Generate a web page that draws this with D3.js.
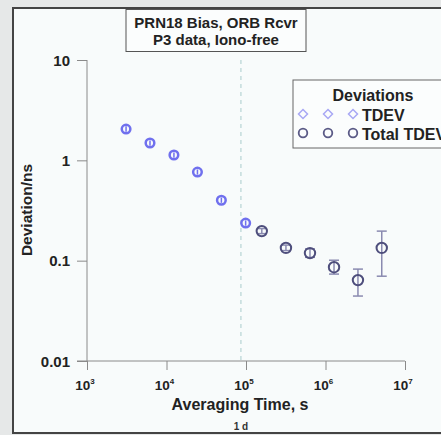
<!DOCTYPE html>
<html>
<head>
<meta charset="utf-8">
<script src="https://cdn.jsdelivr.net/npm/d3@7"></script>
<style>
  body { margin: 0; background: #e6e8e8; }
  svg { display: block; font-family: "Liberation Sans", Arial, sans-serif; font-weight: bold; }
</style>
</head>
<body>
<div id="chart"></div>
<script>
// TDEV points (s, ns)
var tdevTau = [3100, 6200, 12400, 24500, 49000, 99000];
var tdevVal = [2.05, 1.49, 1.13, 0.764, 0.40, 0.237];
var tdevLo  = [1.93, 1.40, 1.06, 0.72, 0.377, 0.223];
var tdevHi  = [2.18, 1.58, 1.20, 0.81, 0.425, 0.252];

// Total TDEV points
var totTau = [158000, 318000, 638000, 1280000, 2560000, 5100000];
var totVal = [0.197, 0.134, 0.119, 0.086, 0.064, 0.134];
var totLo  = [0.186, 0.126, 0.108, 0.0735, 0.0444, 0.070];
var totHi  = [0.209, 0.143, 0.131, 0.101, 0.0824, 0.197];

var xTicks = [1e3, 1e4, 1e5, 1e6, 1e7];
var xExp = ["3", "4", "5", "6", "7"];
var yTicks = [0.01, 0.1, 1, 10];
var yLabels = ["0.01", "0.1", "1", "10"];
var oneDay = 86400;

var titleLines = ["PRN18 Bias, ORB Rcvr", "P3 data, Iono-free"];
var legendNames = ["TDEV", "Total TDEV"];

var width = 441, height = 435;

var svg = d3.select("#chart").append("svg")
    .attr("width", width)
    .attr("height", height);

// frame
svg.append("rect")
    .attr("x", 13).attr("y", 8)
    .attr("width", 440).attr("height", 425)
    .attr("fill", "#f8fbfb")
    .attr("stroke", "#444").attr("stroke-width", 2);

var x = d3.scaleLog().domain([1e3, 1e7]).range([87, 405]);
var y = d3.scaleLog().domain([0.01, 10]).range([361, 60]);

var axisColor = "#8a8a8a";

// minor ticks
function minors(lo, hi) {
    var out = [];
    for (var d = lo; d < hi; d *= 10)
        for (var k = 2; k < 10; k++) out.push(d * k);
    return out;
}

var gy = svg.append("g").attr("transform", "translate(87,0)");
gy.call(d3.axisLeft(y).tickValues(minors(0.01, 10)).tickSize(5).tickFormat(""));
gy.call(d3.axisLeft(y).tickValues(yTicks).tickSize(10).tickFormat(""));
gy.selectAll("path, line").attr("stroke", axisColor);
gy.select(".domain").attr("d", "M0," + y(10) + "V" + y(0.01));

var gx = svg.append("g").attr("transform", "translate(0,361)");
gx.call(d3.axisBottom(x).tickValues(minors(1e3, 1e7)).tickSize(4).tickFormat(""));
gx.call(d3.axisBottom(x).tickValues(xTicks).tickSize(9).tickFormat(""));
gx.selectAll("path, line").attr("stroke", axisColor);
gx.select(".domain").attr("d", "M77,0H" + x(1e7));

// y tick labels
svg.selectAll(".ylab").data(yTicks).enter().append("text")
    .attr("class", "ylab")
    .attr("x", 70)
    .attr("y", function(d) { return y(d) + 5.5; })
    .attr("text-anchor", "end")
    .attr("font-size", 15)
    .attr("fill", "#222")
    .text(function(d, i) { return yLabels[i]; });

// x tick labels
var xl = svg.selectAll(".xlab").data(xTicks).enter().append("text")
    .attr("class", "xlab")
    .attr("x", function(d) { return x(d) - 2; })
    .attr("y", 390)
    .attr("text-anchor", "middle")
    .attr("font-size", 13.5)
    .attr("fill", "#222");
xl.append("tspan").text("10");
xl.append("tspan").attr("dy", -6).attr("font-size", 8).text(function(d, i) { return xExp[i]; });

// axis titles
svg.append("text")
    .attr("x", 240).attr("y", 410)
    .attr("text-anchor", "middle")
    .attr("font-size", 16)
    .attr("fill", "#222")
    .text("Averaging Time, s");

svg.append("text")
    .attr("x", x(oneDay)).attr("y", 430)
    .attr("text-anchor", "middle")
    .attr("font-size", 10)
    .attr("fill", "#333")
    .text("1 d");

svg.append("text")
    .attr("transform", "translate(32,210) rotate(-90)")
    .attr("text-anchor", "middle")
    .attr("font-size", 15.5)
    .attr("fill", "#222")
    .text("Deviation/ns");

// 1 day marker
svg.append("line")
    .attr("x1", x(oneDay)).attr("x2", x(oneDay))
    .attr("y1", y(10)).attr("y2", y(0.01))
    .attr("stroke", "#a9cccc").attr("stroke-width", 1)
    .attr("stroke-dasharray", "4,4");

// title box
svg.append("rect")
    .attr("x", 126).attr("y", 9.5)
    .attr("width", 180).attr("height", 42)
    .attr("fill", "#fbfdfd")
    .attr("stroke", "#555").attr("stroke-width", 1);
svg.selectAll(".ttl").data(titleLines).enter().append("text")
    .attr("class", "ttl")
    .attr("x", 216)
    .attr("y", function(d, i) { return 28 + i * 17; })
    .attr("text-anchor", "middle")
    .attr("font-size", 15)
    .attr("fill", "#222")
    .text(function(d) { return d; });

// TDEV points
var tdevColor = "#7070ee";
var tdev = tdevTau.map(function(t, i) { return {t: t, v: tdevVal[i], lo: tdevLo[i], hi: tdevHi[i]}; });
var g1 = svg.append("g");
g1.selectAll("line").data(tdev).enter().append("line")
    .attr("x1", function(d) { return x(d.t); })
    .attr("x2", function(d) { return x(d.t); })
    .attr("y1", function(d) { return y(d.lo); })
    .attr("y2", function(d) { return y(d.hi); })
    .attr("stroke", tdevColor).attr("stroke-width", 1.5);
g1.selectAll("circle").data(tdev).enter().append("circle")
    .attr("cx", function(d) { return x(d.t); })
    .attr("cy", function(d) { return y(d.v); })
    .attr("r", 4.3)
    .attr("fill", "none")
    .attr("stroke", tdevColor).attr("stroke-width", 2.5);

// Total TDEV points
var totColor = "#4e4e7c", barColor = "#8a8ab0";
var tot = totTau.map(function(t, i) { return {t: t, v: totVal[i], lo: totLo[i], hi: totHi[i]}; });
var g2 = svg.append("g");
var eb = g2.selectAll(".eb").data(tot).enter().append("g").attr("class", "eb")
    .attr("stroke", barColor).attr("stroke-width", 1.5);
eb.append("line")
    .attr("x1", function(d) { return x(d.t); })
    .attr("x2", function(d) { return x(d.t); })
    .attr("y1", function(d) { return y(d.lo); })
    .attr("y2", function(d) { return y(d.hi); });
eb.append("line")
    .attr("x1", function(d) { return x(d.t) - 5; })
    .attr("x2", function(d) { return x(d.t) + 5; })
    .attr("y1", function(d) { return y(d.lo); })
    .attr("y2", function(d) { return y(d.lo); });
eb.append("line")
    .attr("x1", function(d) { return x(d.t) - 5; })
    .attr("x2", function(d) { return x(d.t) + 5; })
    .attr("y1", function(d) { return y(d.hi); })
    .attr("y2", function(d) { return y(d.hi); });
g2.selectAll("circle").data(tot).enter().append("circle")
    .attr("cx", function(d) { return x(d.t); })
    .attr("cy", function(d) { return y(d.v); })
    .attr("r", 5.2)
    .attr("fill", "none")
    .attr("stroke", totColor).attr("stroke-width", 2);

// legend
var lg = svg.append("g");
lg.append("rect")
    .attr("x", 293).attr("y", 80)
    .attr("width", 160).attr("height", 68)
    .attr("fill", "#fbfdfd")
    .attr("stroke", "#666").attr("stroke-width", 1);
lg.append("text")
    .attr("x", 373).attr("y", 101)
    .attr("text-anchor", "middle")
    .attr("font-size", 16)
    .attr("fill", "#222")
    .text("Deviations");
var symX = [303, 328, 353];
var rows = lg.selectAll(".row").data(legendNames).enter().append("g")
    .attr("class", "row")
    .attr("transform", function(d, i) { return "translate(0," + (114 + i * 19) + ")"; });
rows.append("text")
    .attr("x", 362).attr("y", 6.5)
    .attr("font-size", 16)
    .attr("fill", "#222")
    .text(function(d) { return d; });
rows.filter(function(d, i) { return i === 0; }).selectAll("path").data(symX).enter().append("path")
    .attr("d", function(d) { return "M" + d + ",-4.5L" + (d + 4.5) + ",0L" + d + ",4.5L" + (d - 4.5) + ",0Z"; })
    .attr("fill", "none").attr("stroke", "#a8a8f4").attr("stroke-width", 1.5);
rows.filter(function(d, i) { return i === 1; }).selectAll("circle").data(symX).enter().append("circle")
    .attr("cx", function(d) { return d; }).attr("cy", 0).attr("r", 4.3)
    .attr("fill", "none").attr("stroke", "#5a5a86").attr("stroke-width", 1.8);
</script>
</body>
</html>
